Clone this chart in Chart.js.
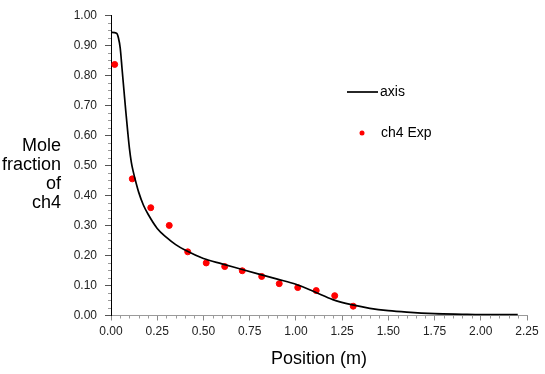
<!DOCTYPE html>
<html>
<head>
<meta charset="utf-8">
<script src="https://cdn.jsdelivr.net/npm/chart.js@4.4.0/dist/chart.umd.min.js"></script>
<style>
  html, body { margin: 0; padding: 0; background: #fff; }
  #wrap { width: 545px; height: 374px; position: relative; }
</style>
</head>
<body>
<div id="wrap"><canvas id="chart"></canvas></div>
<script>
// simulated profile along the axis
const axisX = [0, 0.03, 0.04, 0.05, 0.06, 0.07, 0.08, 0.09, 0.1, 0.11, 0.12, 0.135, 0.15, 0.175, 0.2, 0.25, 0.3, 0.35, 0.4,
  0.5, 0.6, 0.7, 0.8, 0.9, 1.0, 1.1, 1.2, 1.3, 1.4, 1.5, 1.6, 1.75, 1.9, 2.0, 2.2];
const axisY = [0.943, 0.94, 0.925, 0.89, 0.82, 0.75, 0.68, 0.615, 0.555, 0.51, 0.48, 0.443, 0.41, 0.368, 0.338, 0.29, 0.26, 0.236, 0.218,
  0.19, 0.172, 0.155, 0.138, 0.121, 0.104, 0.079, 0.053, 0.036, 0.024, 0.016, 0.011, 0.006, 0.004, 0.003, 0.003];

// experimental points
const expX = [0.02, 0.115, 0.215, 0.315, 0.415, 0.515, 0.615, 0.71, 0.815, 0.91, 1.01, 1.11, 1.21, 1.31];
const expY = [0.836, 0.455, 0.359, 0.3, 0.212, 0.175, 0.163, 0.149, 0.13, 0.106, 0.093, 0.083, 0.066, 0.031];

const xTicks = [0, 0.25, 0.5, 0.75, 1, 1.25, 1.5, 1.75, 2, 2.25];
const yTicks = [0, 0.1, 0.2, 0.3, 0.4, 0.5, 0.6, 0.7, 0.8, 0.9, 1];
const yTitle = ["Mole", "fraction", "of", "ch4"];

const FONT = "'Liberation Sans', Arial, sans-serif";

// minor ticks, horizontal y title and legend
const extras = {
  id: "extras",
  afterDraw(chart) {
    const ctx = chart.ctx;
    const xs = chart.scales.x, ys = chart.scales.y;
    const area = chart.chartArea;
    ctx.save();
    ctx.strokeStyle = "#9a9a9a";
    ctx.lineWidth = 1;
    ctx.beginPath();
    for (let i = 1; i < 45; i++) {
      if (i % 5 === 0) continue;
      const px = Math.round(xs.getPixelForValue(i * 0.05)) + 0.5;
      ctx.moveTo(px, area.bottom);
      ctx.lineTo(px, area.bottom + 3);
    }
    for (let i = 1; i < 40; i++) {
      if (i % 4 === 0) continue;
      const py = Math.round(ys.getPixelForValue(i * 0.025)) + 0.5;
      ctx.moveTo(area.left - 3, py);
      ctx.lineTo(area.left, py);
    }
    ctx.stroke();

    // y title, written flat
    ctx.fillStyle = "#000";
    ctx.font = "18px " + FONT;
    ctx.textAlign = "right";
    ctx.textBaseline = "middle";
    yTitle.forEach((t, i) => ctx.fillText(t, 61, 146 + i * 19));

    // legend
    const line = chart.data.datasets[0], pts = chart.data.datasets[1];
    ctx.font = "14px " + FONT;
    ctx.textAlign = "left";
    ctx.strokeStyle = line.borderColor;
    ctx.lineWidth = line.borderWidth;
    ctx.beginPath();
    ctx.moveTo(347, 92);
    ctx.lineTo(378, 92);
    ctx.stroke();
    ctx.fillText(line.label, 380, 92);
    ctx.fillStyle = pts.backgroundColor;
    ctx.beginPath();
    ctx.arc(362, 133, 2.5, 0, Math.PI * 2);
    ctx.fill();
    ctx.fillStyle = "#000";
    ctx.fillText(pts.label, 381, 133);
    ctx.restore();
  }
};

new Chart(document.getElementById("chart"), {
  type: "line",
  data: {
    datasets: [
      {
        label: "axis",
        data: axisX.map((x, i) => ({ x: x, y: axisY[i] })),
        borderColor: "#000",
        borderWidth: 1.7,
        pointRadius: 0,
        cubicInterpolationMode: "monotone",
        fill: false,
      },
      {
        label: "ch4 Exp",
        type: "scatter",
        data: expX.map((x, i) => ({ x: x, y: expY[i] })),
        backgroundColor: "#ff0000",
        borderColor: "#ff0000",
        pointRadius: 3,
        showLine: false,
      },
    ],
  },
  options: {
    responsive: true,
    maintainAspectRatio: false,
    animation: false,
    layout: { padding: { top: 11.5, right: 18, bottom: 0, left: 0 } },
    plugins: { legend: { display: false }, tooltip: { enabled: false } },
    scales: {
      x: {
        type: "linear",
        min: 0,
        max: 2.25,
        afterBuildTicks: (s) => { s.ticks = xTicks.map((v) => ({ value: v })); },
        afterFit: (s) => { s.height = 58.5; },
        ticks: {
          callback: (v) => Number(v).toFixed(2),
          font: { size: 12, family: FONT },
          color: "#222",
          padding: 4,
          maxRotation: 0,
        },
        grid: { drawOnChartArea: false, tickLength: 5, color: "#888", tickColor: "#888" },
        border: { color: "#9a9a9a", width: 1 },
        title: {
          display: true,
          text: "Position (m)",
          font: { size: 18, family: FONT },
          color: "#000",
          padding: { top: 0, bottom: 4 },
        },
      },
      y: {
        type: "linear",
        min: 0,
        max: 1,
        afterBuildTicks: (s) => { s.ticks = yTicks.map((v) => ({ value: v })); },
        afterFit: (s) => { s.width = 111; },
        ticks: {
          callback: (v) => Number(v).toFixed(2),
          font: { size: 12, family: FONT },
          color: "#222",
          padding: 8,
        },
        grid: { drawOnChartArea: false, tickLength: 6, color: "#555", tickColor: "#555" },
        border: { color: "#000", width: 1 },
      },
    },
  },
  plugins: [extras],
});
</script>
</body>
</html>
